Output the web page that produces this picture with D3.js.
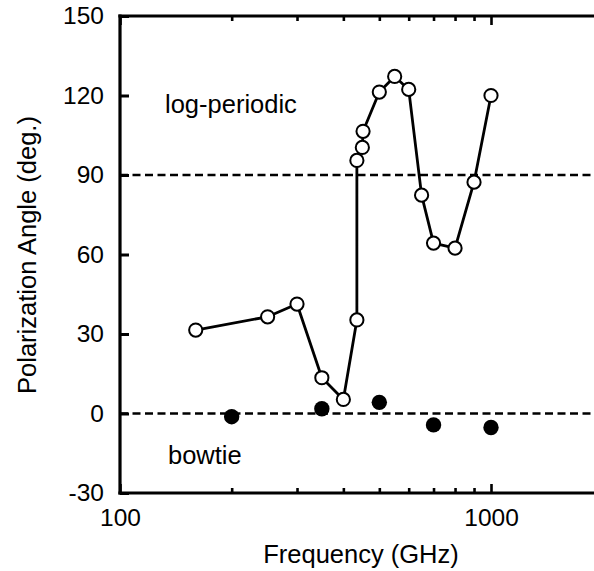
<!DOCTYPE html>
<html>
<head>
<meta charset="utf-8">
<script src="https://cdn.jsdelivr.net/npm/d3@7"></script>
<style>
  html, body { margin: 0; padding: 0; background: #fff; }
  svg { display: block; }
  text { font-family: "Liberation Sans", Arial, sans-serif; fill: #000; }
</style>
</head>
<body>
<svg id="chart" width="594" height="571"></svg>
<script>
// ---- data ----
const logPeriodicFreq = [160, 250, 300, 350, 400, 435, 435, 450, 452, 500, 550, 600, 650, 700, 800, 900, 1000];
const logPeriodicAngle = [31.5, 36.5, 41.3, 13.5, 5.3, 35.3, 95.5, 100.4, 106.5, 121.3, 127.2, 122.3, 82.4, 64.3, 62.4, 87.3, 120];
const bowtieFreq = [200, 350, 500, 700, 1000];
const bowtieAngle = [-1.2, 1.8, 4.2, -4.3, -5.3];
const yTicks = [-30, 0, 30, 60, 90, 120, 150];
const xMajorTicks = [100, 1000];
const xMinorTicks = [200, 300, 400, 500, 600, 700, 800, 900];
const refLines = [0, 90];
const xDomain = [100, 2000];
const yDomain = [-30, 150];

(function () {
// ---- layout ----
const svg = d3.select("#chart");
const mLeft = 120, mTop = 16, mBottom = 493;
const x = d3.scaleLog().domain(xDomain).range([mLeft, mLeft + 371 * Math.log10(20)]);
const y = d3.scaleLinear().domain(yDomain).range([mBottom, mTop]);
const xRight = x(xDomain[1]);
const FONT = "Liberation Sans, Arial, sans-serif";

// reference dashed lines
svg.selectAll("line.ref").data(refLines).join("line")
  .attr("class", "ref")
  .attr("x1", mLeft).attr("x2", xRight)
  .attr("y1", d => y(d)).attr("y2", d => y(d))
  .attr("stroke", "#000").attr("stroke-width", 2.4)
  .attr("stroke-dasharray", "8,4.5");

// left axis (inward ticks)
const gy = svg.append("g").attr("transform", `translate(${mLeft},0)`)
  .call(d3.axisLeft(y).tickValues(yTicks).tickFormat(d => String(d)).tickSize(-9).tickSizeOuter(0).tickPadding(16));
gy.select(".domain").remove();
gy.selectAll(".tick line").attr("stroke-width", 3);
gy.selectAll(".tick text").style("font-size", "24.5px").attr("font-family", FONT);

// bottom axis major
const gx = svg.append("g").attr("transform", `translate(0,${mBottom})`)
  .call(d3.axisBottom(x).tickValues(xMajorTicks).tickFormat(d => String(d)).tickSize(-9).tickSizeOuter(0).tickPadding(16));
gx.select(".domain").remove();
gx.selectAll(".tick line").attr("stroke-width", 2.6);
gx.selectAll(".tick text").style("font-size", "24.5px").attr("font-family", FONT);

// bottom axis minor
const gxm = svg.append("g").attr("transform", `translate(0,${mBottom})`)
  .call(d3.axisBottom(x).tickValues(xMinorTicks).tickFormat("").tickSize(-5).tickSizeOuter(0));
gxm.select(".domain").remove();
gxm.selectAll(".tick line").attr("stroke-width", 2.6);

// top axis major/minor
const gt = svg.append("g").attr("transform", `translate(0,${mTop})`)
  .call(d3.axisTop(x).tickValues(xMajorTicks).tickFormat("").tickSize(-9).tickSizeOuter(0));
gt.select(".domain").remove();
gt.selectAll(".tick line").attr("stroke-width", 2.6);
const gtm = svg.append("g").attr("transform", `translate(0,${mTop})`)
  .call(d3.axisTop(x).tickValues(xMinorTicks).tickFormat("").tickSize(-5).tickSizeOuter(0));
gtm.select(".domain").remove();
gtm.selectAll(".tick line").attr("stroke-width", 2.6);

// spines
svg.append("line").attr("x1", mLeft).attr("x2", mLeft).attr("y1", mTop - 1.5).attr("y2", mBottom + 1.5)
  .attr("stroke", "#000").attr("stroke-width", 3.2);
svg.append("line").attr("x1", mLeft - 1.6).attr("x2", xRight).attr("y1", mTop).attr("y2", mTop)
  .attr("stroke", "#000").attr("stroke-width", 3.2);
svg.append("line").attr("x1", mLeft - 1.6).attr("x2", xRight).attr("y1", mBottom).attr("y2", mBottom)
  .attr("stroke", "#000").attr("stroke-width", 3.2);

// log-periodic line + open circles
const lpData = logPeriodicFreq.map((f, i) => ({f, a: logPeriodicAngle[i]}));
svg.append("path").datum(lpData)
  .attr("d", d3.line().x(d => x(d.f)).y(d => y(d.a)))
  .attr("fill", "none").attr("stroke", "#000").attr("stroke-width", 2.8).attr("stroke-linejoin", "round");
svg.selectAll("circle.lp").data(lpData).join("circle")
  .attr("class", "lp")
  .attr("cx", d => x(d.f)).attr("cy", d => y(d.a)).attr("r", 6.6)
  .attr("fill", "#fff").attr("stroke", "#000").attr("stroke-width", 2);

// bowtie filled circles
const btData = bowtieFreq.map((f, i) => ({f, a: bowtieAngle[i]}));
svg.selectAll("circle.bt").data(btData).join("circle")
  .attr("class", "bt")
  .attr("cx", d => x(d.f)).attr("cy", d => y(d.a)).attr("r", 7.7)
  .attr("fill", "#000");

// annotations
svg.append("text").attr("x", 165).attr("y", 113).style("font-size", "25.5px").text("log-periodic");
svg.append("text").attr("x", 168).attr("y", 464).style("font-size", "25.5px").text("bowtie");

// axis titles
svg.append("text").attr("x", 361).attr("y", 563).attr("text-anchor", "middle")
  .style("font-size", "25.5px").text("Frequency (GHz)");
svg.append("text").attr("transform", "translate(36,255) rotate(-90)").attr("text-anchor", "middle")
  .style("font-size", "25.5px").text("Polarization Angle (deg.)");
})();
</script>
</body>
</html>
